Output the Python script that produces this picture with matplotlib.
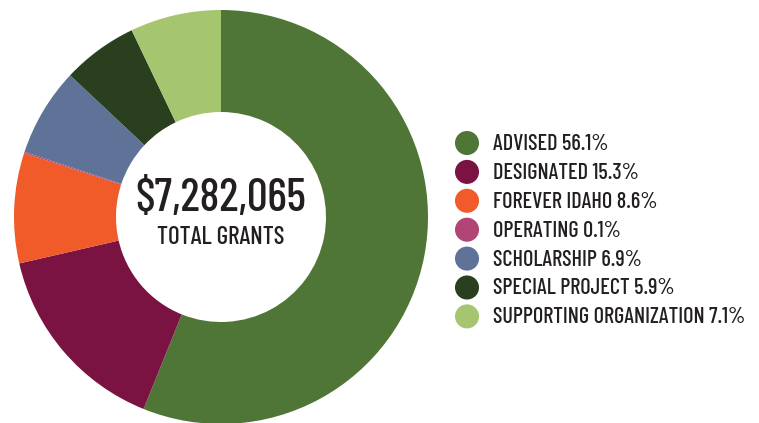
import matplotlib
matplotlib.use("Agg")
import matplotlib.pyplot as plt

# grant shares, clockwise from 12 o'clock
labels = ["ADVISED", "DESIGNATED", "FOREVER IDAHO", "OPERATING",
          "SCHOLARSHIP", "SPECIAL PROJECT", "SUPPORTING ORGANIZATION"]
shares = [56.1, 15.3, 8.6, 0.1, 6.9, 5.9, 7.1]
colors = ["#4f7636", "#7b1342", "#f15a29", "#b04576",
          "#5f7297", "#2a3f1e", "#a5c56f"]
total_text = "$7,282,065"
sub_text = "TOTAL GRANTS"

W, H = 759, 423
plt.rcParams['font.family'] = ['Barlow Condensed', 'DejaVu Sans']
plt.rcParams['font.weight'] = 500
txt_color = "#231f20"

fig = plt.figure(figsize=(W / 100, H / 100), dpi=100)
fig.patch.set_facecolor("white")

# donut, placed in pixel units
cx, cy, R = 221, 217, 207
ax = fig.add_axes([(cx - R) / W, (H - cy - R) / H, 2 * R / W, 2 * R / H])
ax.pie(shares, colors=colors, startangle=90, counterclock=False,
       radius=1.0, wedgeprops=dict(width=1 - 105 / R, linewidth=0))
ax.set_xlim(-1, 1)
ax.set_ylim(-1, 1)
ax.set_aspect("equal")
ax.axis("off")

ax.text(0, 0.085, total_text, ha="center", va="center", fontsize=33,
        color=txt_color)
ax.text(0, -0.10, sub_text, ha="center", va="center", fontsize=18,
        color=txt_color)

# legend drawn by hand in pixel coordinates
lg = fig.add_axes([0, 0, 1, 1])
lg.set_xlim(0, W)
lg.set_ylim(H, 0)
lg.axis("off")
lg.patch.set_alpha(0)

y0, dy = 143, 28.9
for i, (lab, v, c) in enumerate(zip(labels, shares, colors)):
    y = y0 + i * dy
    lg.scatter([467], [y], s=300, color=c, edgecolors="none")
    lg.text(493, y + 1, f"{lab} {v}%", ha="left", va="center",
            fontsize=16, color=txt_color)

fig.savefig("out.png", dpi=100)
